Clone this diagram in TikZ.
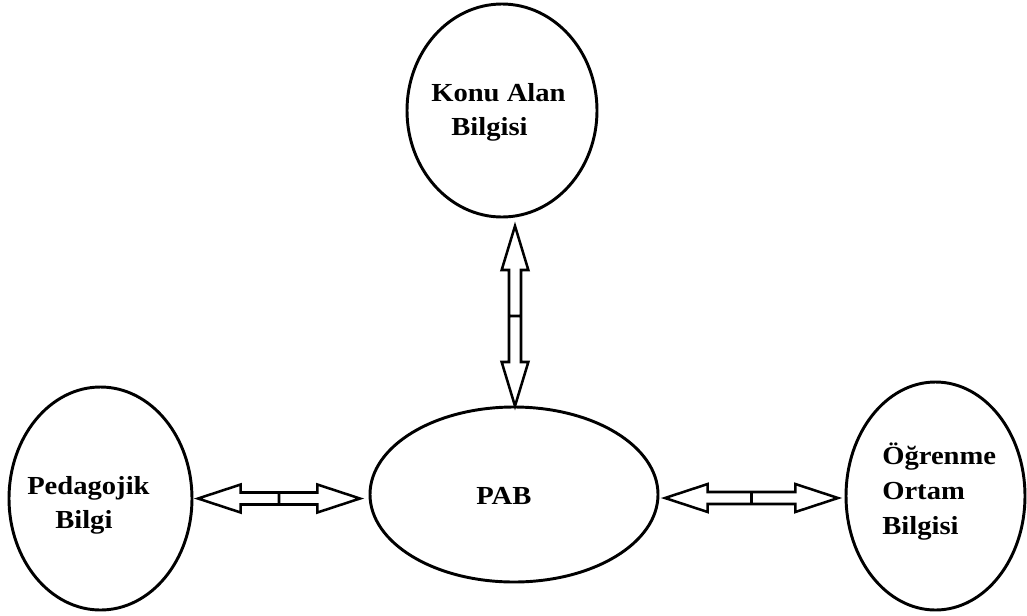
\documentclass[tikz,border=0pt]{standalone}
\usepackage{fontspec}
\newfontfamily\lblfont{Liberation Serif}[FakeStretch=1.1]
\usetikzlibrary{shapes.geometric,calc}

% hollow double arrow on a horizontal line, split by a bar in the middle
\newcommand\dblarrowH[2]{%
  \draw[hollowarrow] let \p1=(#1), \p2=(#2), \p3=($(#1)!0.5!(#2)$) in
    (\p1) -- (\x1+32pt,\y1+10.5pt) -- (\x1+32pt,\y1+4.5pt) -- (\x3,\y1+4.5pt)
          -- (\x3,\y1-4.5pt) -- (\x1+32pt,\y1-4.5pt) -- (\x1+32pt,\y1-10.5pt) -- cycle
    (\p2) -- (\x2-32pt,\y2+10.5pt) -- (\x2-32pt,\y2+4.5pt) -- (\x3,\y2+4.5pt)
          -- (\x3,\y2-4.5pt) -- (\x2-32pt,\y2-4.5pt) -- (\x2-32pt,\y2-10.5pt) -- cycle;}
% the same on a vertical line, #1 the upper tip
\newcommand\dblarrowV[2]{%
  \draw[hollowarrow] let \p1=(#1), \p2=(#2), \p3=($(#1)!0.5!(#2)$) in
    (\p1) -- (\x1+10pt,\y1-33pt) -- (\x1+4.5pt,\y1-33pt) -- (\x1+4.5pt,\y3)
          -- (\x1-4.5pt,\y3) -- (\x1-4.5pt,\y1-33pt) -- (\x1-10pt,\y1-33pt) -- cycle
    (\p2) -- (\x2+10pt,\y2+33pt) -- (\x2+4.5pt,\y2+33pt) -- (\x2+4.5pt,\y3)
          -- (\x2-4.5pt,\y3) -- (\x2-4.5pt,\y2+33pt) -- (\x2-10pt,\y2+33pt) -- cycle;}

\begin{document}
\begin{tikzpicture}[x=0.75pt,y=-0.75pt,
  bubble/.style={ellipse,draw,line width=2.2pt,inner sep=0pt,outer sep=0pt},
  hollowarrow/.style={draw,line width=1.9pt,line join=miter,fill=white},
  lbl/.style={inner sep=0pt,align=left,anchor=north west,
    font=\lblfont\bfseries\fontsize{19.5pt}{26pt}\selectfont}]
\useasboundingbox[fill=white] (0,0) rectangle (1027,615);

% knowledge domains
\node[bubble,minimum width=142.5pt,minimum height=159.75pt] (kab) at (502,110.5) {};
\node[bubble,minimum width=137.25pt,minimum height=167.25pt] (ped) at (100.5,498.5) {};
\node[bubble,minimum width=216pt,minimum height=131.25pt] (pab) at (514,494.5) {};
\node[bubble,minimum width=134.25pt,minimum height=171pt] (ogr) at (935.5,496) {};

% labels
\node[lbl] (kab-t) at (431,83) {Konu Alan\\\hspace*{15pt}Bilgisi};
\node[lbl] (ped-t) at (27,476) {Pedagojik\\\hspace*{21pt}Bilgi};
\node[lbl] (pab-t) at (476,487) {PAB};
\node[lbl] (ogr-t) at (882,443) {Öğrenme\\Ortam\\Bilgisi};

% connector end points
\coordinate (a1) at ($(ped.east)+(6,0)$);
\coordinate (a2x) at ($(pab.west)+(-10,0)$);
\coordinate (a2) at (a2x |- a1);
\coordinate (b1) at ($(pab.east)+(7,3.5)$);
\coordinate (b2x) at ($(ogr.west)+(-8,0)$);
\coordinate (b2) at (b2x |- b1);
\coordinate (c2) at ($(pab.north)+(1,-1)$);
\coordinate (c1) at (c2 |- {$(kab.south)+(0,9)$});

% connectors
\dblarrowH{a1}{a2}
\dblarrowH{b1}{b2}
\dblarrowV{c1}{c2}
\end{tikzpicture}
\end{document}
